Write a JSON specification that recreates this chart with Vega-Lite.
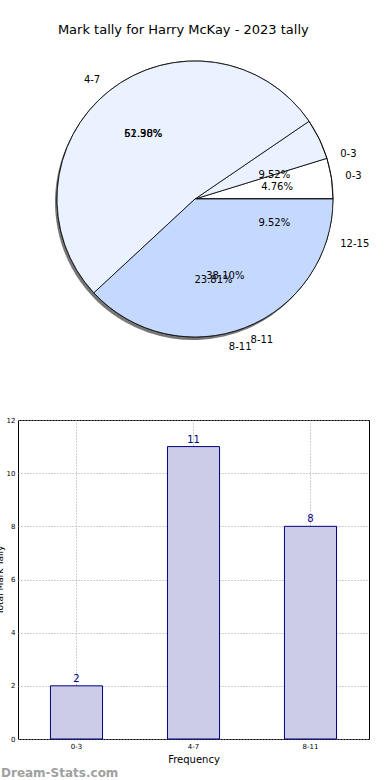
{
  "$schema": "https://vega.github.io/schema/vega-lite/v6.json",
  "padding": {"left": -6, "top": 24, "right": 0, "bottom": 0},
  "title": {"text": "Mark tally for Harry McKay - 2023 tally", "fontSize": 13, "fontWeight": "normal", "font": "DejaVu Sans", "color": "black", "anchor": "middle", "offset": 12},
  "config": {"font": "DejaVu Sans", "view": {"stroke": null}},
  "datasets": {
    "a": [
      {"range": "0-3", "lo": 0, "count": 2, "pct": "9.52%"},
      {"range": "4-7", "lo": 4, "count": 11, "pct": "52.38%"},
      {"range": "8-11", "lo": 8, "count": 8, "pct": "38.10%"}
    ],
    "b": [
      {"range": "0-3", "lo": 0, "count": 1, "pct": "4.76%"},
      {"range": "4-7", "lo": 4, "count": 13, "pct": "61.90%"},
      {"range": "8-11", "lo": 8, "count": 5, "pct": "23.81%"},
      {"range": "12-15", "lo": 12, "count": 2, "pct": "9.52%"}
    ]
  },
  "spacing": 62,
  "vconcat": [
    {
      "width": 354,
      "height": 300,
      "encoding": {
        "theta": {"field": "count", "type": "quantitative", "stack": true, "scale": {"range": [1.5708, -4.7124]}},
        "order": {"field": "lo", "type": "quantitative"}
      },
      "layer": [
        {"data": {"name": "b"}, "mark": {"type": "arc", "outerRadius": 138, "fill": "#555555", "opacity": 0.8, "xOffset": -2, "yOffset": 3}},
        {"data": {"name": "b"}, "mark": {"type": "arc", "outerRadius": 138, "stroke": "black", "strokeWidth": 0.8},
         "encoding": {"fill": {"field": "range", "type": "nominal", "scale": {"domain": ["0-3", "4-7", "8-11", "12-15"], "range": ["#ffffff", "#eaf1ff", "#c5d9ff", "#9ab8f0"]}, "legend": null}}},
        {"data": {"name": "a"}, "mark": {"type": "arc", "outerRadius": 138, "stroke": "black", "strokeWidth": 0.8},
         "encoding": {"color": {"field": "range", "type": "nominal", "scale": {"domain": ["0-3", "4-7", "8-11"], "range": ["rgba(0,0,0,0)", "#eaf1ff", "#c5d9ff"]}, "legend": null}}},
        {"data": {"name": "b"}, "mark": {"type": "text", "radius": 83, "fontSize": 10, "color": "black"}, "encoding": {"text": {"field": "pct"}}},
        {"data": {"name": "a"}, "mark": {"type": "text", "radius": 83, "fontSize": 10, "color": "black"}, "encoding": {"text": {"field": "pct"}}},
        {"data": {"name": "b"}, "mark": {"type": "text", "radius": 152, "fontSize": 10, "color": "black", "align": "left"}, "encoding": {"text": {"condition": {"test": "datum.range === '4-7'", "value": ""}, "field": "range"}}},
        {"data": {"name": "a"}, "mark": {"type": "text", "radius": 152, "fontSize": 10, "color": "black", "align": "left"}, "encoding": {"text": {"condition": {"test": "datum.range === '4-7'", "value": ""}, "field": "range"}}},
        {"data": {"name": "a"}, "mark": {"type": "text", "radius": 152, "fontSize": 10, "color": "black", "align": "right"}, "encoding": {"text": {"condition": {"test": "datum.range !== '4-7'", "value": ""}, "field": "range"}}}
      ],
      "resolve": {"scale": {"fill": "independent", "color": "independent"}}
    },
    {
      "data": {"name": "a"},
      "width": 351,
      "height": 319,
      "view": {"stroke": "black", "strokeWidth": 1},
      "title": {"text": "Dream-Stats.com", "orient": "bottom", "anchor": "start", "frame": "group", "dx": -17, "fontSize": 12, "fontWeight": "bold", "color": "#a0a0a0", "offset": 4},
      "encoding": {
        "x": {"field": "range", "type": "nominal", "sort": ["0-3", "4-7", "8-11"], "scale": {"paddingInner": 0, "paddingOuter": 0},
          "axis": {"title": "Frequency", "titleFontSize": 10, "titleFontWeight": "normal", "titleColor": "black", "titlePadding": 5, "labelFontSize": 7, "labelColor": "black", "labelAngle": 0, "labelPadding": 3, "ticks": false, "domain": false, "grid": true, "gridDash": [1, 2], "gridColor": "#a0a0a0", "bandPosition": 0.5}},
        "y": {"field": "count", "type": "quantitative", "scale": {"domain": [0, 12], "nice": false},
          "axis": {"title": "Total Mark Tally", "titleFontSize": 9, "titleFontWeight": "normal", "titleColor": "black", "titlePadding": 2, "labelFontSize": 7, "labelColor": "black", "labelPadding": 3, "values": [0, 2, 4, 6, 8, 10, 12], "ticks": false, "domain": false, "grid": true, "gridDash": [1, 2], "gridColor": "#a0a0a0"}}
      },
      "layer": [
        {"mark": {"type": "bar", "width": {"band": 0.445}, "fill": "#ccccE6", "stroke": "#000080", "strokeWidth": 1}},
        {"mark": {"type": "text", "baseline": "bottom", "dy": -2, "fontSize": 10, "color": "#000080"}, "encoding": {"text": {"field": "count"}}}
      ]
    }
  ]
}
